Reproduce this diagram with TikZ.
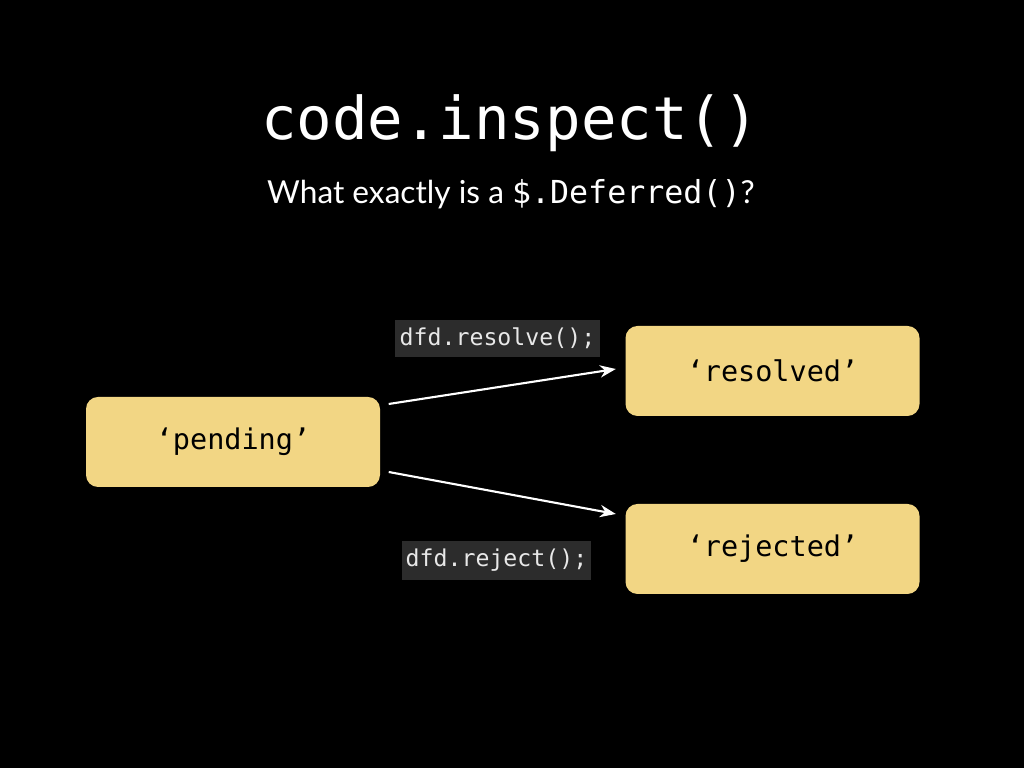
\documentclass[tikz,border=0pt]{standalone}
\usepackage{fontspec}
\setmainfont{Lato}
\newfontfamily\mono{DejaVu Sans Mono}
\usetikzlibrary{arrows.meta}
\definecolor{boxfill}{RGB}{242,214,132}
\definecolor{codebg}{RGB}{44,44,44}
\definecolor{codefg}{RGB}{232,232,232}
\tikzset{
  state/.style={fill=boxfill, rounded corners=12pt*0.2845, minimum width=294*0.01cm, minimum height=90*0.01cm, inner sep=0pt, font=\mono\fontsize{8.1pt}{9pt}\selectfont, text=black},
  codelbl/.style={fill=codebg, text=codefg, inner sep=0pt, font=\mono\fontsize{6.6pt}{8pt}\selectfont},
  trans/.style={draw=white, line width=0.6pt, -{Stealth[length=4.5pt,width=3.5pt]}}
}
\begin{document}
\begin{tikzpicture}[x=0.01cm,y=-0.01cm]
\fill[black] (0,0) rectangle (1024,768);
\useasboundingbox (0,0) rectangle (1024,768);
\node[text=white, font=\mono\fontsize{16.8pt}{20pt}\selectfont] (title) at (510,123) {code.inspect()};
\node[text=white, font=\fontsize{9pt}{11pt}\selectfont] (sub) at (511,194) {What exactly is a {\mono\$.Deferred()}?};
\node[state] (pending) at (233,442) {‘pending’};
\node[state] (resolved) at (772.5,371) {‘resolved’};
\node[state] (rejected) at (772.5,549) {‘rejected’};
\node[codelbl, minimum width=205*0.01cm, minimum height=37*0.01cm] (lres) at (497.5,338.5) {dfd.resolve();};
\node[codelbl, minimum width=189*0.01cm, minimum height=39*0.01cm] (lrej) at (496.5,560.5) {dfd.reject();};
\draw[trans] ([shift={(8,-38)}]pending.east) -- ([shift={(-9,-2)}]resolved.west);
\draw[trans] ([shift={(8,30)}]pending.east) -- ([shift={(-9,-35)}]rejected.west);
\end{tikzpicture}
\end{document}
